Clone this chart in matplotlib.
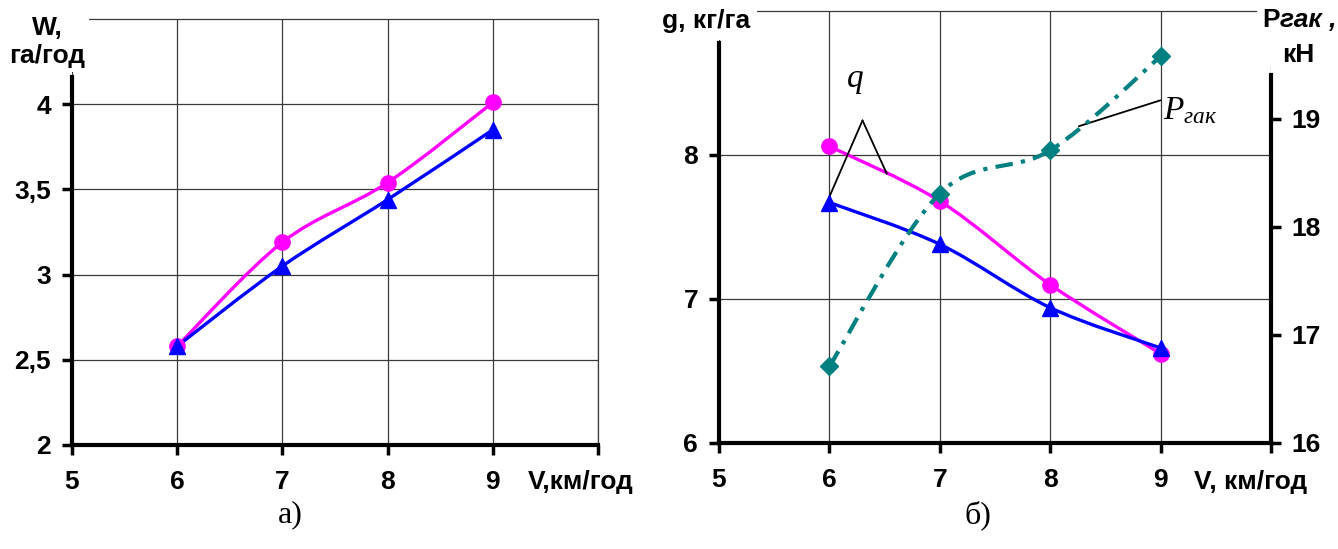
import numpy as np
import matplotlib
matplotlib.use("Agg")
import matplotlib.pyplot as plt
from matplotlib.path import Path
from matplotlib.patches import PathPatch, Rectangle

# а) productivity W, га/год vs speed
V = [6, 7, 8, 9]
W_top = [2.58, 3.19, 3.54, 4.01]
W_bot = [2.58, 3.05, 3.44, 3.85]
# б) fuel consumption g, кг/га and draft force Pгак, кН
g_top = [8.06, 7.68, 7.10, 6.62]
g_bot = [7.67, 7.38, 6.94, 6.66]
P_hak = [16.71, 18.31, 18.71, 19.58]

W_ticks = [2, 2.5, 3, 3.5, 4]
W_tick_labels = ['2', '2,5', '3', '3,5', '4']
x_ticks = [5, 6, 7, 8, 9, 10]
x_tick_labels = ['5', '6', '7', '8', '9', '']

plt.rcParams['font.family'] = ['Liberation Sans', 'DejaVu Sans']
plt.rcParams['mathtext.fontset'] = 'custom'
plt.rcParams['mathtext.it'] = 'Liberation Serif:italic'
plt.rcParams['mathtext.rm'] = 'Liberation Serif'

FW, FH = 1338, 549
fig = plt.figure(figsize=(FW / 100, FH / 100), dpi=100)


def box(x0, y0, x1, y1):
    # pixel box -> figure fraction rect
    return [x0 / FW, 1 - y1 / FH, (x1 - x0) / FW, (y1 - y0) / FH]


def fxy(x, y):
    return x / FW, 1 - y / FH


def smooth(ax, x, y, **kw):
    # Excel-like smoothed line, built in display space
    pts = ax.transData.transform(np.column_stack([x, y]))
    n = len(pts)
    verts = [pts[0]]
    codes = [Path.MOVETO]
    for i in range(n - 1):
        p0 = pts[i - 1] if i > 0 else pts[i]
        p3 = pts[i + 2] if i + 2 < n else pts[i + 1]
        c1 = pts[i] + (pts[i + 1] - p0) / 6
        c2 = pts[i + 1] - (p3 - pts[i]) / 6
        verts += [c1, c2, pts[i + 1]]
        codes += [Path.CURVE4] * 3
    verts = ax.transData.inverted().transform(np.array(verts))
    ax.add_patch(PathPatch(Path(verts, codes), fill=False, **kw))


gridc = '#3a3a3a'
tfs = 19
magenta = '#FF00FF'
blue = '#0000FF'
teal = '#008080'

# ---------- a) ----------
ax1 = fig.add_axes(box(72, 19, 598, 445))
ax1.set_xlim(5, 10)
ax1.set_ylim(2, 4.5)
ax1.set_xticks(x_ticks)
ax1.set_xticklabels(x_tick_labels)
ax1.set_yticks(W_ticks)
ax1.set_yticklabels(W_tick_labels)
ax1.grid(True, color=gridc, lw=0.9)
for s in ['top', 'right']:
    ax1.spines[s].set_color(gridc)
    ax1.spines[s].set_linewidth(0.9)
ax1.spines['left'].set_linewidth(3)
ax1.spines['bottom'].set_linewidth(3)
ax1.spines['left'].set_bounds(2, 4.16)
ax1.tick_params(direction='out', length=7, width=2.5, labelsize=tfs)
ax1.tick_params(axis='x', pad=11)
ax1.tick_params(axis='y', pad=8)
for t in ax1.get_xticklabels() + ax1.get_yticklabels():
    t.set_fontweight('bold')

smooth(ax1, V, W_top, ec=magenta, lw=2.4, zorder=3)
smooth(ax1, V, W_bot, ec=blue, lw=2.4, zorder=3)
ax1.plot(V, W_top, 'o', color=magenta, ms=11, zorder=4)
ax1.plot(V, W_bot, '^', color=blue, ms=11, zorder=4)

fig.text(*fxy(47, 42), 'W,\nга/год', ha='center', va='center', fontsize=tfs,
         fontweight='bold', linespacing=1.2,
         bbox=dict(fc='white', ec='none', pad=3))
fig.text(*fxy(581, 482), 'V,км/год', ha='center', va='center', fontsize=tfs,
         fontweight='bold')
fig.text(*fxy(290, 515), 'а)', ha='center', va='center', fontsize=23,
         family='Liberation Serif')

# ---------- б) ----------
ax2 = fig.add_axes(box(719, 11, 1271, 443))
ax3 = ax2.twinx()
ax2.set_xlim(5, 10)
ax2.set_ylim(6, 9)
ax3.set_ylim(16, 20)
ax2.set_xticks(x_ticks)
ax2.set_xticklabels(x_tick_labels)
ax2.set_yticks([6, 7, 8])
ax3.set_yticks([16, 17, 18, 19])
ax2.grid(True, color=gridc, lw=0.9)
ax2.spines['top'].set_color(gridc)
ax2.spines['top'].set_linewidth(0.9)
ax2.spines['right'].set_visible(False)
ax2.spines['left'].set_linewidth(3)
ax2.spines['bottom'].set_linewidth(3)
ax2.spines['left'].set_bounds(6, 8.78)
ax3.spines['top'].set_visible(False)
ax3.spines['left'].set_visible(False)
ax3.spines['bottom'].set_visible(False)
ax3.spines['right'].set_linewidth(3)
ax3.spines['right'].set_bounds(16, 19.41)
ax2.tick_params(direction='out', length=7, width=2.5, labelsize=tfs)
ax2.tick_params(axis='x', pad=11)
ax2.tick_params(axis='y', pad=8)
ax3.tick_params(direction='out', length=7, width=2.5, labelsize=tfs, pad=8)
for t in ax2.get_xticklabels() + ax2.get_yticklabels() + ax3.get_yticklabels():
    t.set_fontweight('bold')

smooth(ax2, V, g_top, ec=magenta, lw=2.4, zorder=3)
smooth(ax2, V, g_bot, ec=blue, lw=2.4, zorder=3)
ax2.plot(V, g_top, 'o', color=magenta, ms=11, zorder=4)
ax2.plot(V, g_bot, '^', color=blue, ms=11, zorder=4)
smooth(ax3, V, P_hak, ec=teal, lw=3, zorder=3,
       linestyle=(0, (4.2, 2.0, 1.0, 2.0)))
ax3.plot(V, P_hak, 'D', color=teal, ms=9, zorder=4)

# leader lines
ax2.annotate('', xy=(6.0, 7.71), xytext=(6.3, 8.24),
             arrowprops=dict(arrowstyle='-', lw=1.3, color='black',
                             shrinkA=0, shrinkB=0))
ax2.annotate('', xy=(6.52, 7.87), xytext=(6.3, 8.24),
             arrowprops=dict(arrowstyle='-', lw=1.3, color='black',
                             shrinkA=0, shrinkB=0))
ax2.text(6.23, 8.52, '$q$', ha='center', va='center', fontsize=24)
ax2.annotate('', xy=(8.26, 8.2), xytext=(9.0, 8.38),
             arrowprops=dict(arrowstyle='-', lw=1.3, color='black',
                             shrinkA=0, shrinkB=0))
ax2.text(9.02, 8.31, '$P_{гак}$', ha='left', va='center', fontsize=24)

fig.text(*fxy(706, 21), 'g, кг/га', ha='center', va='center', fontsize=tfs,
         fontweight='bold', bbox=dict(fc='white', ec='none', pad=5))
# white patch under the right axis title
fig.add_artist(Rectangle(fxy(1257, 66), 81 / FW, 66 / FH,
                         transform=fig.transFigure, fc='white', ec='none',
                         zorder=2.5))
tp = fig.text(*fxy(1262, 32), 'P', ha='left', va='bottom', fontsize=tfs,
              fontweight='bold', zorder=4)
fig.text(*fxy(1298, 55), 'кН', ha='center', va='center', fontsize=tfs,
         fontweight='bold', zorder=4)
fig.canvas.draw()
ext = tp.get_window_extent()
fig.text(ext.x1 / FW, ext.y0 / FH, 'гак ,', ha='left', va='bottom',
         fontsize=tfs, fontweight='bold', style='italic', zorder=4)
fig.text(*fxy(978, 515), 'б)', ha='center', va='center', fontsize=23,
         family='Liberation Serif')
fig.text(*fxy(1251, 482), 'V, км/год', ha='center', va='center', fontsize=tfs,
         fontweight='bold')

fig.savefig('out.png', dpi=100)
